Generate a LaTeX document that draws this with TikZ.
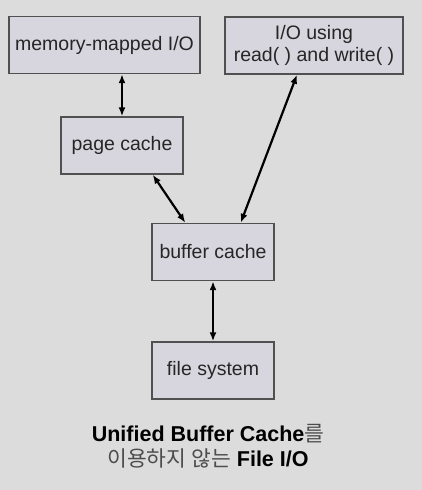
\documentclass[tikz,border=0pt]{standalone}
\usepackage{fontspec}
\setmainfont{Liberation Sans}
\newfontfamily\hangul{Noto Sans CJK KR}
\usetikzlibrary{arrows.meta}
\definecolor{slidebg}{HTML}{DCDCDC}
\definecolor{boxfill}{HTML}{D7D5DD}
\definecolor{boxline}{HTML}{505050}
\tikzset{
  box/.style     = { rectangle, inner sep=0pt, align=center, text=black!85, font=\fontsize{19.5}{22}\selectfont },
  border/.style  = { line width=1.4pt, draw=boxline, fill=boxfill },
  layer/.style   = { box, border, minimum width=122pt, minimum height=57pt },
  wide/.style    = { box, border, minimum height=57pt },
}
\begin{document}
\begin{tikzpicture}[
  x=1pt,y=-1pt,
  >={Latex[length=9pt,width=7pt]},line width=2.2pt,
]
  \fill[slidebg] (0,0) rectangle (422,490);
  \useasboundingbox (0,0) rectangle (422,490);

  \node (mmio)  [wide,minimum width=191pt] at (104.5,45)  {memory-mapped I/O};
  \node (rwio)  [wide,minimum width=178pt] at (314,45.5)  {I/O using\\read( ) and write( )};
  \node (page)  [layer] at (122,145.5)                    {page cache};
  \node (buf)   [layer] at (213,252)                      {buffer cache};
  \node (fs)    [layer] at (213,370.5)                    {file system};

  \node (cap)   [align=center,font=\fontsize{21.5}{25}\selectfont] at (208,446)
    {\textbf{Unified Buffer Cache}{\hangul\color{black!70}를}\\
     {\hangul\color{black!70}이용하지 않는} \textbf{File I/O}};

  \draw [<->] (mmio.south -| page) -- (page.north);
  \draw [<->] ([xshift=-31pt]page.south east) -- ([xshift=34pt]buf.north west);
  \draw [<->] ([xshift=-17pt]rwio.south) -- ([xshift=-34pt]buf.north east);
  \draw [<->] (buf) -- (fs);
\end{tikzpicture}
\end{document}
